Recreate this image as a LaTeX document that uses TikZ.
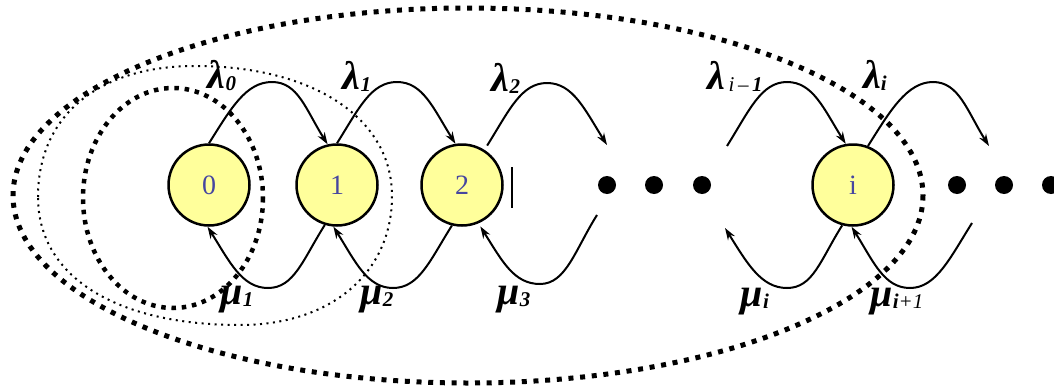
\documentclass[tikz,border=0pt]{standalone}
\usepackage{fontspec}
\setmainfont{Liberation Serif}
\usetikzlibrary{arrows.meta}
\definecolor{nodefill}{RGB}{255,255,155}
\definecolor{numcol}{RGB}{70,70,160}
\newcommand\glab[2]{{\fontsize{40}{40}\selectfont\bfseries\itshape #1}\raisebox{-2pt}{\fontsize{21}{21}\selectfont\bfseries\itshape #2}}
\begin{document}
\begin{tikzpicture}[x=1pt,y=-1pt,
 state/.style={circle,draw,line width=2.5pt,fill=nodefill,minimum size=81pt,inner sep=0pt,font=\fontsize{28}{28}\selectfont,text=numcol},
 dotnode/.style={circle,fill=black,minimum size=18pt,inner sep=0pt},
 trans/.style={line width=2pt,-{Stealth[length=12pt,width=8pt]}},
 bigdots/.style={line width=5pt,dash pattern=on 5pt off 6.7pt},
 middots/.style={line width=4.5pt,dash pattern=on 4.5pt off 5.8pt},
 thindots/.style={line width=2pt,dash pattern=on 2pt off 4.5pt},
 lab/.style={inner sep=0pt}]
\useasboundingbox (0,0) rectangle (1054,391);
\fill[white] (0,0) rectangle (1054,391);

% dotted groupings
\draw[bigdots] (468,195.5) ellipse [x radius=455, y radius=187.5];
\draw[middots] (173,198) ellipse [x radius=90, y radius=110];
\draw[thindots] (38,197) .. controls (38,116) and (98,66) .. (195,66)
  .. controls (313,66) and (392,118) .. (392,196)
  .. controls (392,273) and (331,325) .. (240,325)
  .. controls (115,325) and (38,276) .. cycle;

% states
\node[state] (n0) at (209,185) {0};
\node[state] (n1) at (337,185) {1};
\node[state] (n2) at (462,185) {2};
\node[state] (ni) at (853,185) {i};

% ellipsis dots
\node[dotnode] (d1) at (607,185) {};
\node[dotnode] (d2) at (654,185) {};
\node[dotnode] (d3) at (702,185) {};
\node[dotnode] (d4) at (957,185) {};
\node[dotnode] (d5) at (1004,185) {};
\node[dotnode] (d6) at (1051,185) {};

% bar
\coordinate (b1) at (512,167);
\coordinate (b2) at (512,208);
\draw[line width=1.5pt] (b1) -- (b2);

% free ends and peaks
\coordinate (p0) at (272,82);
\coordinate (p1) at (397,82);
\coordinate (p2) at (547,83);
\coordinate (p3) at (787,82);
\coordinate (p4) at (933,82);
\coordinate (e2) at (607,145);
\coordinate (s3) at (727,146);
\coordinate (e4) at (989,146);
\coordinate (t1) at (268,288);
\coordinate (t2) at (393,288);
\coordinate (t3) at (540,284);
\coordinate (t4) at (787,288);
\coordinate (t5) at (910,288);
\coordinate (s6) at (597,215);
\coordinate (e7) at (725,228);
\coordinate (s8) at (972,223);

% lambda arcs
\draw[trans] (n0.90) .. controls +(22,-35) and +(-26,0) .. (p0) .. controls +(26,0) and +(-22,-35) .. (n1.103);
\draw[trans] (n1.90) .. controls +(22,-35) and +(-26,0) .. (p1) .. controls +(26,0) and +(-22,-35) .. (n2.99);
\draw[trans] ([shift={(3,-4)}]n2.58) .. controls +(22,-35) and +(-26,0) .. (p2) .. controls +(26,0) and +(-22,-35) .. (e2);
\draw[trans] (s3) .. controls +(22,-35) and +(-26,0) .. (p3) .. controls +(26,0) and +(-22,-35) .. (ni.100);
\draw[trans] (ni.69) .. controls +(22,-35) and +(-26,0) .. (p4) .. controls +(26,0) and +(-22,-35) .. (e4);

% mu arcs
\draw[trans] (n1.253) .. controls +(-22,35) and +(26,0) .. (t1) .. controls +(-26,0) and +(22,35) .. (n0.268);
\draw[trans] (n2.256) .. controls +(-22,35) and +(26,0) .. (t2) .. controls +(-26,0) and +(22,35) .. (n1.265);
\draw[trans] (s6) .. controls +(-22,35) and +(26,0) .. (t3) .. controls +(-26,0) and +(22,35) .. ([shift={(2,3)}]n2.293);
\draw[trans] (ni.255) .. controls +(-22,35) and +(26,0) .. (t4) .. controls +(-26,0) and +(22,35) .. (e7);
\draw[trans] (s8) .. controls +(-22,35) and +(26,0) .. (t5) .. controls +(-26,0) and +(22,35) .. (ni.268);

% labels
\node[lab] (l0) at (222,76) {\glab{λ}{0}};
\node[lab] (l1) at (357,76) {\glab{λ}{1}};
\node[lab] (l2) at (506,78) {\glab{λ}{2}};
\node[lab] (l3) at (735,76) {\glab{λ}{\,\normalfont\itshape i\,–\,\bfseries 1}};
\node[lab] (l4) at (875,75) {\glab{λ}{i}};
\node[lab] (m1) at (237,300) {\glab{μ}{1}};
\node[lab] (m2) at (377,300) {\glab{μ}{2}};
\node[lab] (m3) at (514,300) {\glab{μ}{3}};
\node[lab] (m4) at (755,302) {\glab{μ}{i}};
\node[lab] (m5) at (897,302) {\glab{μ}{i\normalfont\itshape +1}};
\end{tikzpicture}
\end{document}
